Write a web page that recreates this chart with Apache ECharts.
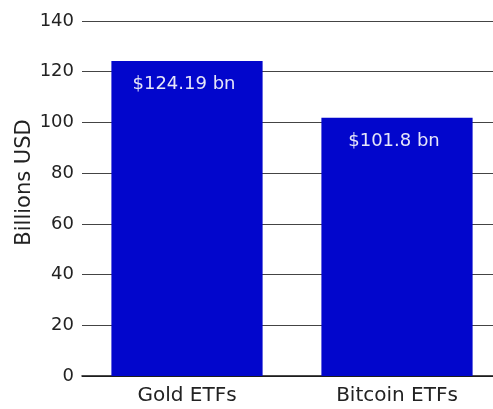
<!DOCTYPE html>
<html><head><meta charset="utf-8">
<script src="https://cdn.jsdelivr.net/npm/echarts@6/dist/echarts.min.js"></script>
<style>html,body{margin:0;padding:0;background:#fff}#c{width:493px;height:409px}</style>
</head><body><div id="c"></div>
<script>
const categories = ['Gold ETFs', 'Bitcoin ETFs'];
const values = [124.19, 101.8];
const valueLabels = ['$124.19 bn', '$101.8 bn'];
const yTicks = [0, 20, 40, 60, 80, 100, 120, 140];

const FONT = 'DejaVu Sans';
const chart = echarts.init(document.getElementById('c'));
chart.setOption({
  animation: false,
  grid: { left: 82, width: 420, top: 21, bottom: 33, containLabel: false, outerBoundsMode: 'none' },
  xAxis: {
    type: 'category', data: categories,
    axisLine: { lineStyle: { color: '#111', width: 1.5 } },
    axisTick: { show: false },
    axisLabel: { fontFamily: FONT, fontSize: 20, color: '#222', margin: 10 }
  },
  yAxis: {
    type: 'value', min: yTicks[0], max: yTicks[yTicks.length - 1], interval: 20,
    name: 'Billions USD', nameLocation: 'middle', nameGap: 47, nameMoveOverlap: false,
    nameTextStyle: { fontFamily: FONT, fontSize: 21, color: '#222', padding: [0, 0, 0, 32] },
    axisLine: { show: false }, axisTick: { show: false },
    axisLabel: { fontFamily: FONT, fontSize: 18, color: '#222', margin: 8 },
    splitLine: { lineStyle: { color: '#444', width: 1 } }
  },
  series: [{
    type: 'bar', data: values, barWidth: '72%',
    itemStyle: { color: '#0206cc' },
    label: {
      show: true, position: 'insideTop', distance: 12, offset: [-3, 2],
      fontFamily: FONT, fontSize: 18, color: '#e6e6f8',
      formatter: p => valueLabels[p.dataIndex]
    }
  }]
});
</script></body></html>
